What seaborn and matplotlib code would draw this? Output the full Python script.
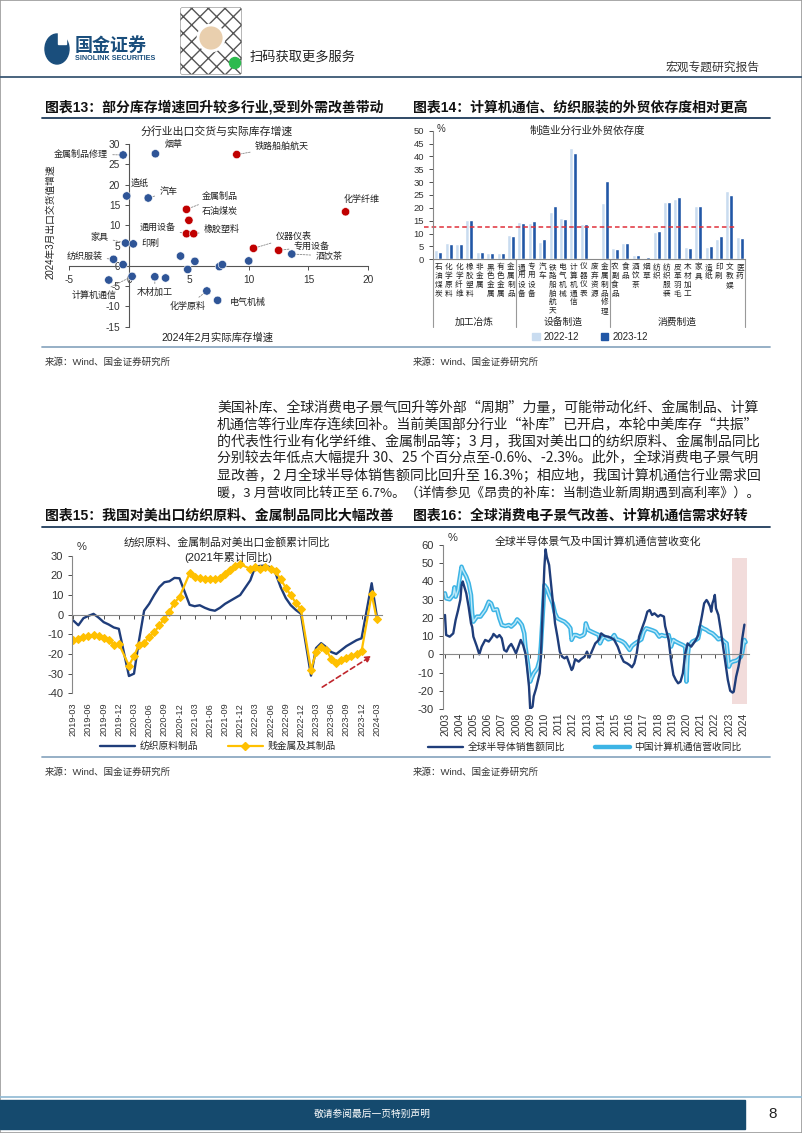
import numpy as np
import pandas as pd
import matplotlib
matplotlib.use("Agg")
import matplotlib.pyplot as plt
import seaborn as sns
from matplotlib.patches import Rectangle, Ellipse, FancyBboxPatch, Patch
from matplotlib.lines import Line2D

sns.set_theme(style="white")
plt.rcParams["font.family"] = ["Liberation Sans", "Noto Sans CJK SC"]
plt.rcParams["axes.unicode_minus"] = False

W, H = 802, 1133
fig = plt.figure(figsize=(W / 100, H / 100), dpi=100)


def fx(x):
    return x / W


def fy(y):
    return 1 - y / H


def rect(l, t, r, b):
    return [fx(l), fy(b), (r - l) / W, (b - t) / H]


CJK = ["Noto Sans CJK SC", "DejaVu Sans"]

# ---------------- DATA ----------------
# Chart 13: scatter
sc_names = ["金属制品修理", "烟草", "铁路船舶航天", "造纸", "汽车", "金属制品", "石油煤炭", "通用设备",
            "橡胶塑料", "化学纤维", "家具", "印刷", "仪器仪表", "专用设备", "酒饮茶", "纺织服装",
            "计算机通信", "木材加工", "化学原料", "电气机械",
            "", "", "", "", "", "", "", "", ""]
sc_x = [-0.5, 2.2, 9.0, -0.2, 1.6, 4.8, 5.0, 4.8, 5.4, 18.1, -0.3, 0.35, 10.4, 12.5, 13.6, -1.3,
        0.25, 2.15, 6.5, 7.4,
        -0.5, 4.3, 5.5, 4.9, 7.55, 7.8, 10.0, -1.7, 3.05]
sc_y = [27.3, 27.6, 27.4, 17.2, 16.7, 13.9, 11.2, 7.9, 7.9, 13.3, 5.6, 5.4, 4.3, 3.8, 2.9, 1.6,
        -2.6, -2.7, -6.2, -8.5,
        0.3, 2.4, 1.1, -0.9, -0.2, 0.3, 1.2, -3.5, -3.0]
sc_group = ["其他", "其他", "补库", "其他", "其他", "补库", "补库", "补库", "补库", "补库", "其他", "其他",
            "补库", "补库", "其他", "其他", "其他", "其他", "其他", "其他",
            "其他", "其他", "其他", "其他", "其他", "其他", "其他", "其他", "其他"]

# Chart 14: bars
bar_cats = ["石油煤炭", "化学原料", "化学纤维", "橡胶塑料", "非金属", "黑色金属", "有色金属", "金属制品",
            "通用设备", "专用设备", "汽车", "铁路船舶航天", "电气机械", "计算机通信", "仪器仪表", "废弃资源",
            "金属制品修理", "农副食品", "食品", "酒饮茶", "烟草", "纺织", "纺织服装", "皮革羽毛", "木材加工",
            "家具", "造纸", "印刷", "文教娱", "医药"]
bar_2022 = [3.6, 6.2, 6.0, 15.2, 3.0, 2.4, 2.5, 9.6, 14.5, 14.0, 6.9, 18.5, 16.0, 43.3, 13.7, 0.3,
            21.8, 4.3, 6.3, 1.6, 0.6, 10.8, 22.3, 23.5, 4.9, 20.7, 4.8, 7.8, 26.7, 8.8]
bar_2023 = [2.7, 6.1, 5.8, 15.2, 3.0, 2.5, 2.3, 9.2, 14.2, 14.9, 8.0, 20.6, 15.5, 41.5, 13.7, 0.3,
            30.4, 3.9, 6.4, 1.5, 0.7, 10.9, 22.4, 24.2, 4.5, 20.9, 5.2, 8.9, 24.9, 8.1]
bar_ref = 12.6
bar_groups = ["加工冶炼", "设备制造", "消费制造"]
bar_group_bounds = [-0.5, 7.5, 16.5, 29.5]

# Chart 15: monthly cumulative yoy, 2019-03 .. 2024-03 (Jan merged -> NaN)
m15 = [p.strftime("%Y-%m") for p in pd.period_range("2019-03", "2024-03", freq="M")]
tex_v = [-3.0, -5.4, -1.8, -0.6, 0.4, -1.5, -3.8, -5.0, -6.5, -7.2,
         np.nan, -31.2, -30.0, -13.0, 2.0, 5.5, 10.0, 14.0, 16.5, 17.0, 18.7, 18.5,
         np.nan, 5.0, 4.3, 4.8, 3.5, 2.5, 2.0, 3.5, 5.5, 7.0, 8.5, 10.0,
         np.nan, 17.5, 24.5, 24.8, 25.0, 24.0, 21.0, 14.0, 8.5, 4.8, 2.4, 0.5,
         np.nan, -31.0, -17.0, -14.5, -16.5, -19.0, -20.0, -18.0, -16.0, -14.5, -13.0, -12.0,
         np.nan, 16.0, -0.6]
met_v = [-13.1, -12.3, -11.4, -11.1, -10.4, -11.1, -11.9, -12.8, -15.2, -14.8,
         np.nan, -25.9, -21.0, -15.3, -14.3, -11.4, -8.9, -5.5, -2.0, 1.4, 6.1, 9.0,
         np.nan, 21.0, 19.3, 18.9, 17.9, 17.9, 18.2, 18.9, 20.6, 22.7, 24.7, 25.7,
         np.nan, 23.3, 24.4, 23.3, 24.4, 23.3, 22.0, 17.9, 13.8, 9.9, 6.0, 2.7,
         np.nan, -28.1, -19.1, -16.5, -17.9, -22.5, -24.5, -23.3, -22.0, -21.0, -19.9, -18.6,
         np.nan, 10.4, -2.3]

# Chart 16
sem_m = ["2003-01", "2003-02", "2003-05", "2003-08", "2003-10", "2003-12", "2004-02", "2004-03", "2004-04",
         "2004-07", "2004-09", "2004-11", "2004-12", "2005-01", "2005-04", "2005-06", "2005-08", "2005-11",
         "2006-02", "2006-05", "2006-06", "2006-09", "2006-11", "2007-01", "2007-03", "2007-05", "2007-07",
         "2007-09", "2007-11", "2008-01", "2008-03", "2008-05", "2008-07", "2008-09", "2008-10", "2008-12",
         "2009-01", "2009-03", "2009-04", "2009-06", "2009-09", "2009-10", "2009-11", "2010-01", "2010-02",
         "2010-03", "2010-05", "2010-06", "2010-08", "2010-10", "2010-12", "2011-02", "2011-04", "2011-06",
         "2011-08", "2011-10", "2011-12", "2012-01", "2012-03", "2012-06", "2012-08", "2012-11", "2013-01",
         "2013-03", "2013-05", "2013-08", "2013-11", "2014-01", "2014-04", "2014-07", "2014-10", "2014-12",
         "2015-03", "2015-06", "2015-08", "2015-11", "2016-01", "2016-03", "2016-05", "2016-07", "2016-09",
         "2016-11", "2017-02", "2017-04", "2017-06", "2017-08", "2017-10", "2018-01", "2018-03", "2018-06",
         "2018-07", "2018-10", "2018-12", "2019-02", "2019-04", "2019-06", "2019-08", "2019-10", "2019-12",
         "2020-02", "2020-05", "2020-07", "2020-09", "2020-11", "2021-02", "2021-04", "2021-06", "2021-07",
         "2021-09", "2021-10", "2021-11", "2021-12", "2022-01", "2022-02", "2022-04", "2022-06", "2022-08",
         "2022-10", "2022-12", "2023-02", "2023-04", "2023-05", "2023-07", "2023-09", "2023-11", "2023-12",
         "2024-02"]
sem_v = [21.6, 10.6, 9.7, 11.5, 18.8, 24.0, 30.0, 38.0, 40.0,
         33.5, 26.0, 17.0, 15.0, 9.7, 4.2, 0.0, 4.2, 7.9,
         7.0, 9.7, 11.2, 9.3, 10.6, 8.8, 2.4, 1.5, 4.2,
         5.7, 3.3, 0.5, 4.2, 7.9, 5.1, 0.5, -5.0, -17.7,
         -30.0, -28.7, -23.0, -18.7, -10.4, -1.3, 15.2, 48.0, 57.6,
         53.6, 49.0, 42.6, 29.8, 17.0, 9.7, 1.5, -1.3, -2.2,
         -1.3, -5.0, -8.6, -7.7, -2.7, -4.0, -2.7, -1.3, 1.5,
         -1.8, 1.5, 6.0, 7.9, 11.5, 10.0, 9.7, 8.8, 7.9,
         4.2, -1.3, -4.0, -5.0, -5.9, -7.1, -4.9, 0.5, 9.7,
         13.4, 18.8, 23.4, 24.3, 21.6, 22.5, 20.7, 21.6, 20.7,
         15.5, 7.9, -3.1, -11.3, -14.0, -15.9, -15.0, -10.4, 0.5,
         6.0, 4.2, 6.0, 7.9, 10.6, 20.7, 28.0, 29.8, 28.9,
         26.2, 23.4, 28.0, 29.8, 32.6, 25.2, 21.6, 13.4, 4.2,
         -4.9, -14.0, -20.0, -21.0, -20.5, -12.3, -6.8, 0.5, 7.9,
         16.3]
cc_m = ["2003-01", "2003-02", "2003-05", "2003-08", "2003-09", "2003-10", "2003-12", "2004-01", "2004-03",
        "2004-04", "2004-07", "2004-09", "2004-11", "2004-12", "2005-01", "2005-04", "2005-07", "2005-09",
        "2005-11", "2006-02", "2006-04", "2006-06", "2006-09", "2006-11", "2007-01", "2007-04", "2007-07",
        "2007-09", "2007-12", "2008-02", "2008-04", "2008-06", "2008-08", "2008-09", "2008-11", "2009-01",
        "2009-02", "2009-04", "2009-07", "2009-09", "2009-10", "2009-12", "2010-01", "2010-03", "2010-05",
        "2010-08", "2010-10", "2010-12", "2011-03", "2011-06", "2011-09", "2011-11", "2011-12", "2012-02",
        "2012-04", "2012-07", "2012-10", "2012-11", "2012-12", "2013-02", "2013-05", "2013-08", "2013-11",
        "2013-12", "2014-02", "2014-04", "2014-07", "2014-10", "2014-12", "2015-02", "2015-04", "2015-07",
        "2015-09", "2015-11", "2016-01", "2016-03", "2016-05", "2016-08", "2016-11", "2017-01", "2017-03",
        "2017-06", "2017-09", "2017-11", "2018-02", "2018-04", "2018-07", "2018-10", "2018-11", "2018-12",
        "2019-02", "2019-04", "2019-07", "2019-10", "2019-12", "2020-01", "2020-02", "2020-03", "2020-06",
        "2020-09", "2020-11", "2021-01", "2021-03", "2021-06", "2021-08", "2021-11", "2022-02", "2022-04",
        "2022-06", "2022-09", "2022-11", "2023-01", "2023-02", "2023-04", "2023-07", "2023-09", "2023-11",
        "2023-12", "2024-02", "2024-03"]
cc_v = [33.5, 30.7, 30.2, 32.6, 36.8, 31.6, 35.3, 39.9, 48.1,
        46.3, 42.6, 39.0, 32.6, 22.5, 17.9, 20.7, 20.7, 22.5,
        24.3, 28.9, 28.0, 24.3, 24.7, 19.8, 16.1, 15.5, 16.1,
        15.2, 17.0, 19.2, 17.9, 16.1, 11.5, 4.2, -4.9, -15.0,
        -13.2, -10.4, -7.7, -3.1, 4.2, 26.2, 38.0, 36.2, 32.6,
        28.0, 22.5, 19.8, 18.8, 17.9, 16.1, 14.3, 7.9, 10.6,
        10.6, 9.7, 10.6, 11.5, 17.0, 13.4, 12.4, 11.5, 10.6,
        6.0, 8.8, 9.7, 8.2, 8.8, 10.6, 8.2, 7.9, 7.0,
        6.0, 4.2, 2.4, 4.6, 5.7, 7.0, 8.2, 12.4, 14.3,
        13.7, 13.0, 12.4, 9.7, 10.6, 10.0, 10.6, 7.9, 4.2,
        7.9, 7.0, 6.0, 5.1, 4.2, -15.0, -1.3, 4.2, 7.0,
        7.9, 8.8, 15.2, 14.3, 13.4, 12.4, 11.5, 9.7, 8.2,
        8.8, 7.0, 6.0, -6.8, -4.9, -4.0, -3.5, -2.7, -1.3,
        0.5, 7.9, 6.7]
years16 = list(range(2003, 2025))

body_lines = [
    "美国补库、全球消费电子景气回升等外部“周期”力量，可能带动化纤、金属制品、计算",
    "机通信等行业库存连续回补。当前美国部分行业“补库”已开启，本轮中美库存“共振”",
    "的代表性行业有化学纤维、金属制品等；3 月，我国对美出口的纺织原料、金属制品同比",
    "分别较去年低点大幅提升 30、25 个百分点至-0.6%、-2.3%。此外，全球消费电子景气明",
    "显改善，2 月全球半导体销售额同比回升至 16.3%；相应地，我国计算机通信行业需求回",
    "暖，3 月营收同比转正至 6.7%。（详情参见《昂贵的补库：当制造业新周期遇到高利率》）。",
]

NAVY = "#1F3D7A"
TXT = "#222222"

# ---------------- PAGE FRAME / HEADER ----------------
fig.patches.append(Rectangle((0, 0), 1, 1, transform=fig.transFigure, fill=False,
                             edgecolor="#9a9a9a", lw=1.2))
fig.patches.append(Ellipse((fx(57), fy(49)), 24 / W, 30 / H, transform=fig.transFigure,
                           color="#1A4E7C"))
fig.patches.append(Rectangle((fx(58), fy(44)), 8 / W, 12 / H, transform=fig.transFigure,
                             color="white"))
fig.text(fx(75), fy(45), "国金证券", fontsize=13, weight="bold", color="#1A4E7C", va="center",
         family=CJK)
fig.text(fx(75), fy(58), "SINOLINK SECURITIES", fontsize=5.2, weight="bold", color="#1A4E7C",
         va="center")
fig.patches.append(FancyBboxPatch((fx(182), fy(72)), 58 / W, 62 / H, transform=fig.transFigure,
                                  boxstyle="round,pad=0.002", facecolor="white",
                                  edgecolor="#555555", hatch="xx", lw=0.3))
fig.patches.append(Ellipse((fx(211), fy(38)), 26 / W, 26 / H, transform=fig.transFigure,
                           facecolor="#E9CFAE", edgecolor="white", lw=2))
fig.patches.append(Ellipse((fx(235), fy(63)), 11 / W, 11 / H, transform=fig.transFigure,
                           color="#2DBA4E"))
fig.text(fx(250), fy(57), "扫码获取更多服务", fontsize=9.5, va="center", color=TXT, family=CJK)
fig.text(fx(760), fy(67), "宏观专题研究报告", fontsize=8.5, ha="right", va="center", color="#333",
         family=CJK)
fig.lines.append(Line2D([0, 1], [fy(77), fy(77)], transform=fig.transFigure, color="#3B5874", lw=1.3))

# title rows
for y, t1, t2 in [(107, "图表13：部分库存增速回升较多行业,受到外需改善带动", "图表14：计算机通信、纺织服装的外贸依存度相对更高"),
                  (516, "图表15：我国对美出口纺织原料、金属制品同比大幅改善", "图表16：全球消费电子景气改善、计算机通信需求好转")]:
    fig.text(fx(45), fy(y), t1, fontsize=10, weight="bold", va="center", color="#111")
    fig.text(fx(413), fy(y), t2, fontsize=10, weight="bold", va="center", color="#111")
    fig.lines.append(Line2D([fx(42), fx(770)], [fy(y + 11), fy(y + 11)], transform=fig.transFigure,
                            color="#1F3B5A", lw=1.3))
for y in (347, 757):
    fig.lines.append(Line2D([fx(42), fx(770)], [fy(y), fy(y)], transform=fig.transFigure,
                            color="#8EA9C1", lw=1.3))
    for x in (45, 413):
        fig.text(fx(x), fy(y + 15), "来源：Wind、国金证券研究所", fontsize=6.8, va="center", color="#333")

# body text, each line fitted to the text block width
renderer = fig.canvas.get_renderer()
for i, line in enumerate(body_lines):
    t = fig.text(fx(217), fy(408 + 16.9 * i), line, fontsize=10, va="center", color=TXT, family=CJK)
    wpx = t.get_window_extent(renderer=renderer).width
    t.set_fontsize(10 * 543 / wpx)

# footer
fig.lines.append(Line2D([0, 1], [fy(1097), fy(1097)], transform=fig.transFigure, color="#8FB9D3", lw=1.2))
fig.patches.append(Rectangle((0, fy(1129)), fx(745), 29 / H, transform=fig.transFigure, color="#154A6E"))
fig.text(fx(372), fy(1114), "敬请参阅最后一页特别声明", fontsize=7, ha="center", va="center",
         color="white", family=CJK)
fig.text(fx(773), fy(1114), "8", fontsize=11, ha="center", va="center", color=TXT)

# ---------------- CHART 13 ----------------
ax1 = fig.add_axes(rect(69.3, 144, 368.3, 326.7))
df13 = pd.DataFrame({"x": sc_x, "y": sc_y, "g": sc_group, "n": sc_names})
sns.scatterplot(data=df13, x="x", y="y", hue="g", palette={"补库": "#C00000", "其他": "#2F5597"},
                s=36, edgecolor="white", linewidth=0.4, legend=False, ax=ax1, zorder=3)
ax1.set_xlim(-5, 20)
ax1.set_ylim(-15, 30)
for sp in ("top", "right"):
    ax1.spines[sp].set_visible(False)
for sp in ("left", "bottom"):
    ax1.spines[sp].set_position(("data", 0))
    ax1.spines[sp].set_color("#555")
    ax1.spines[sp].set_linewidth(0.8)
ax1.set_xticks([-5, 0, 5, 10, 15, 20])
ax1.set_yticks(list(range(-15, 31, 5)))
ax1.tick_params(axis="both", length=3, width=0.6, labelsize=7.3, colors="#333", direction="out",
                left=True, bottom=True)
ax1.set_xlabel("")
ax1.set_ylabel("")
# label offsets in pixels (dx, dy, leader)
lab_off = {
    "金属制品修理": (-42, 1, True), "烟草": (18, 9, False), "铁路船舶航天": (45, 8, True),
    "造纸": (13, 13, False), "汽车": (20, 6, True), "金属制品": (33, 13, True),
    "石油煤炭": (31, 9, False), "通用设备": (-29, 6, True), "橡胶塑料": (28, 4, True),
    "化学纤维": (16, 12, False), "家具": (-26, 6, True), "印刷": (17, 0, False),
    "仪器仪表": (40, 12, True), "专用设备": (33, 4, True), "酒饮茶": (37, -2, True),
    "纺织服装": (-29, 3, True), "计算机通信": (-38, -19, True), "木材加工": (0, -16, True),
    "化学原料": (-19, -15, True), "电气机械": (30, -2, False),
}
for _, r in df13.iterrows():
    if not r["n"]:
        continue
    dx, dy, lead = lab_off[r["n"]]
    ap = dict(arrowstyle="-", linestyle=(0, (2, 1.5)), color="#888", lw=0.6, shrinkA=1, shrinkB=3) if lead else None
    ax1.annotate(r["n"], xy=(r["x"], r["y"]), xytext=(dx, dy), textcoords="offset pixels",
                 ha="center", va="center", fontsize=6.5, color="#222", arrowprops=ap, family=CJK)
fig.text(fx(217), fy(131), "分行业出口交货与实际库存增速", fontsize=7.8, ha="center", va="center",
         color="#222", family=CJK)
fig.text(fx(217), fy(338), "2024年2月实际库存增速", fontsize=7.5, ha="center", va="center", color="#222")
fig.text(fx(50), fy(222), "2024年3月出口交货值增速", fontsize=7, ha="center", va="center",
         rotation=90, color="#222")

# ---------------- CHART 14 ----------------
ax2 = fig.add_axes(rect(433, 130.7, 745, 259.3))
df14 = pd.DataFrame({"cat": bar_cats * 2, "val": bar_2022 + bar_2023,
                     "yr": ["2022-12"] * len(bar_cats) + ["2023-12"] * len(bar_cats)})
sns.barplot(data=df14, x="cat", y="val", hue="yr", palette={"2022-12": "#C9DCF0", "2023-12": "#2157A6"},
            width=0.78, legend=False, ax=ax2, saturation=1)
ax2.set_xlim(-0.5, len(bar_cats) - 0.5)
ax2.set_ylim(0, 50)
ax2.set_yticks(list(range(0, 51, 5)))
ax2.axhline(bar_ref, color="#E0303A", ls=(0, (3, 2)), lw=1.1, xmin=-0.03, xmax=0.97, clip_on=False)
for sp in ("top", "right"):
    ax2.spines[sp].set_visible(False)
for sp in ("left", "bottom"):
    ax2.spines[sp].set_color("#888")
    ax2.spines[sp].set_linewidth(0.8)
ax2.set_xticks(range(len(bar_cats)))
ax2.set_xticklabels(["\n".join(c) for c in bar_cats], fontsize=5.5, linespacing=1.12,
                    family=CJK, color="#222")
ax2.tick_params(axis="x", length=0, pad=3)
ax2.tick_params(axis="y", length=3, width=0.6, labelsize=6.8, colors="#333", left=True)
ax2.set_xlabel("")
ax2.set_ylabel("")
trans = ax2.get_xaxis_transform()
y_sep = -(327 - 259.3) / 128.7
for b in bar_group_bounds:
    ax2.plot([b, b], [0, y_sep], transform=trans, color="#999", lw=0.8, clip_on=False)
for i, g in enumerate(bar_groups):
    ax2.text((bar_group_bounds[i] + bar_group_bounds[i + 1]) / 2, -(322 - 259.3) / 128.7, g,
             transform=trans, ha="center", va="center", fontsize=7, color="#222", family=CJK)
fig.text(fx(441), fy(129), "%", fontsize=7, ha="center", va="center", color="#333")
fig.text(fx(587), fy(131), "制造业分行业外贸依存度", fontsize=7.6, ha="center", va="center",
         color="#222", family=CJK)
fig.legend(handles=[Patch(color="#C9DCF0"), Patch(color="#2157A6")], labels=["2022-12", "2023-12"],
           loc="center", bbox_to_anchor=(fx(590), fy(337)), ncol=2, frameon=False, fontsize=7,
           handlelength=0.8, handleheight=0.8, columnspacing=2.2, handletextpad=0.4)

# ---------------- CHART 15 ----------------
ax3 = fig.add_axes(rect(72.3, 555.7, 381.8, 693.3))
df15 = pd.DataFrame({"i": range(len(m15)), "tex": tex_v, "met": met_v})
sns.lineplot(data=df15.dropna(subset=["tex"]), x="i", y="tex", color=NAVY, lw=1.7, ax=ax3)
sns.lineplot(data=df15.dropna(subset=["met"]), x="i", y="met", color="#FFC000", lw=1.6, marker="D",
             markersize=3.6, markeredgecolor="#FFC000", ax=ax3)
ax3.set_xlim(-0.2, 61)
ax3.set_ylim(-40, 30)
ax3.set_yticks(list(range(-40, 31, 10)))
ax3.set_xticks(list(range(0, len(m15), 3)))
ax3.set_xticklabels(m15[::3])
for sp in ("top", "right"):
    ax3.spines[sp].set_visible(False)
ax3.spines["bottom"].set_position(("data", 0))
for sp in ("left", "bottom"):
    ax3.spines[sp].set_color("#888")
    ax3.spines[sp].set_linewidth(0.8)
ax3.tick_params(axis="x", length=3, width=0.6, labelsize=6.6, colors="#333", rotation=90, pad=60.5,
                bottom=True)
ax3.tick_params(axis="y", length=3, width=0.6, labelsize=8, colors="#333", left=True)
ax3.set_xlabel("")
ax3.set_ylabel("")
ax3.annotate("", xy=(0.975, 0.283), xytext=(0.80, 0.034), xycoords="axes fraction",
             arrowprops=dict(arrowstyle="-|>", linestyle=(0, (3, 2)), color="#C0262D", lw=1.2,
                             mutation_scale=9))
fig.text(fx(82), fy(547), "%", fontsize=8, ha="center", va="center", color="#333")
fig.text(fx(227), fy(542), "纺织原料、金属制品对美出口金额累计同比", fontsize=7.8, ha="center",
         va="center", color="#222", family=CJK)
fig.text(fx(228), fy(557), "(2021年累计同比)", fontsize=8, ha="center", va="center", color="#222")
fig.legend(handles=[Line2D([], [], color=NAVY, lw=1.7),
                    Line2D([], [], color="#FFC000", lw=1.6, marker="D", ms=3.6)],
           labels=["纺织原料制品", "贱金属及其制品"], loc="center", bbox_to_anchor=(fx(218), fy(746)),
           ncol=2, frameon=False, fontsize=7, handlelength=3.6, columnspacing=3.0, handletextpad=0.5)

# ---------------- CHART 16 ----------------
ax4 = fig.add_axes(rect(442.7, 545, 748.9, 709))


def dec(m):
    y, mo = m.split("-")
    return int(y) + (int(mo) - 1) / 12


dsem = pd.DataFrame({"t": [dec(m) for m in sem_m], "v": sem_v})
dcc = pd.DataFrame({"t": [dec(m) for m in cc_m], "v": cc_v})
ax4.axvspan(2023.19, 2024.25, ymin=(30 - 27.5) / 90, ymax=(30 + 53) / 90, color="#F2DCDB", lw=0)
sns.lineplot(data=dcc, x="t", y="v", color="#3CB4E5", lw=3.2, ax=ax4)
sns.lineplot(data=dcc, x="t", y="v", color="#BCE8F8", lw=1.0, ax=ax4)
sns.lineplot(data=dsem, x="t", y="v", color=NAVY, lw=1.7, ax=ax4)
ax4.set_xlim(2002.84, 2024.4)
ax4.set_ylim(-30, 60)
ax4.set_yticks(list(range(-30, 61, 10)))
ax4.set_xticks(years16)
ax4.set_xticklabels([str(y) for y in years16])
for sp in ("top", "right"):
    ax4.spines[sp].set_visible(False)
ax4.spines["bottom"].set_position(("data", 0))
for sp in ("left", "bottom"):
    ax4.spines[sp].set_color("#888")
    ax4.spines[sp].set_linewidth(0.8)
ax4.tick_params(axis="x", length=3, width=0.6, labelsize=7.5, colors="#333", rotation=90, pad=39,
                bottom=True)
ax4.tick_params(axis="y", length=3, width=0.6, labelsize=8, colors="#333", left=True)
ax4.set_xlabel("")
ax4.set_ylabel("")
fig.text(fx(453), fy(538), "%", fontsize=8, ha="center", va="center", color="#333")
fig.text(fx(598), fy(542), "全球半导体景气及中国计算机通信营收变化", fontsize=7.8, ha="center",
         va="center", color="#222", family=CJK)
fig.legend(handles=[Line2D([], [], color=NAVY, lw=1.7), Line2D([], [], color="#3CB4E5", lw=3.2)],
           labels=["全球半导体销售额同比", "中国计算机通信营收同比"], loc="center",
           bbox_to_anchor=(fx(585), fy(747)), ncol=2, frameon=False, fontsize=7, handlelength=3.6,
           columnspacing=3.0, handletextpad=0.5)

fig.savefig("out.png", dpi=100)
